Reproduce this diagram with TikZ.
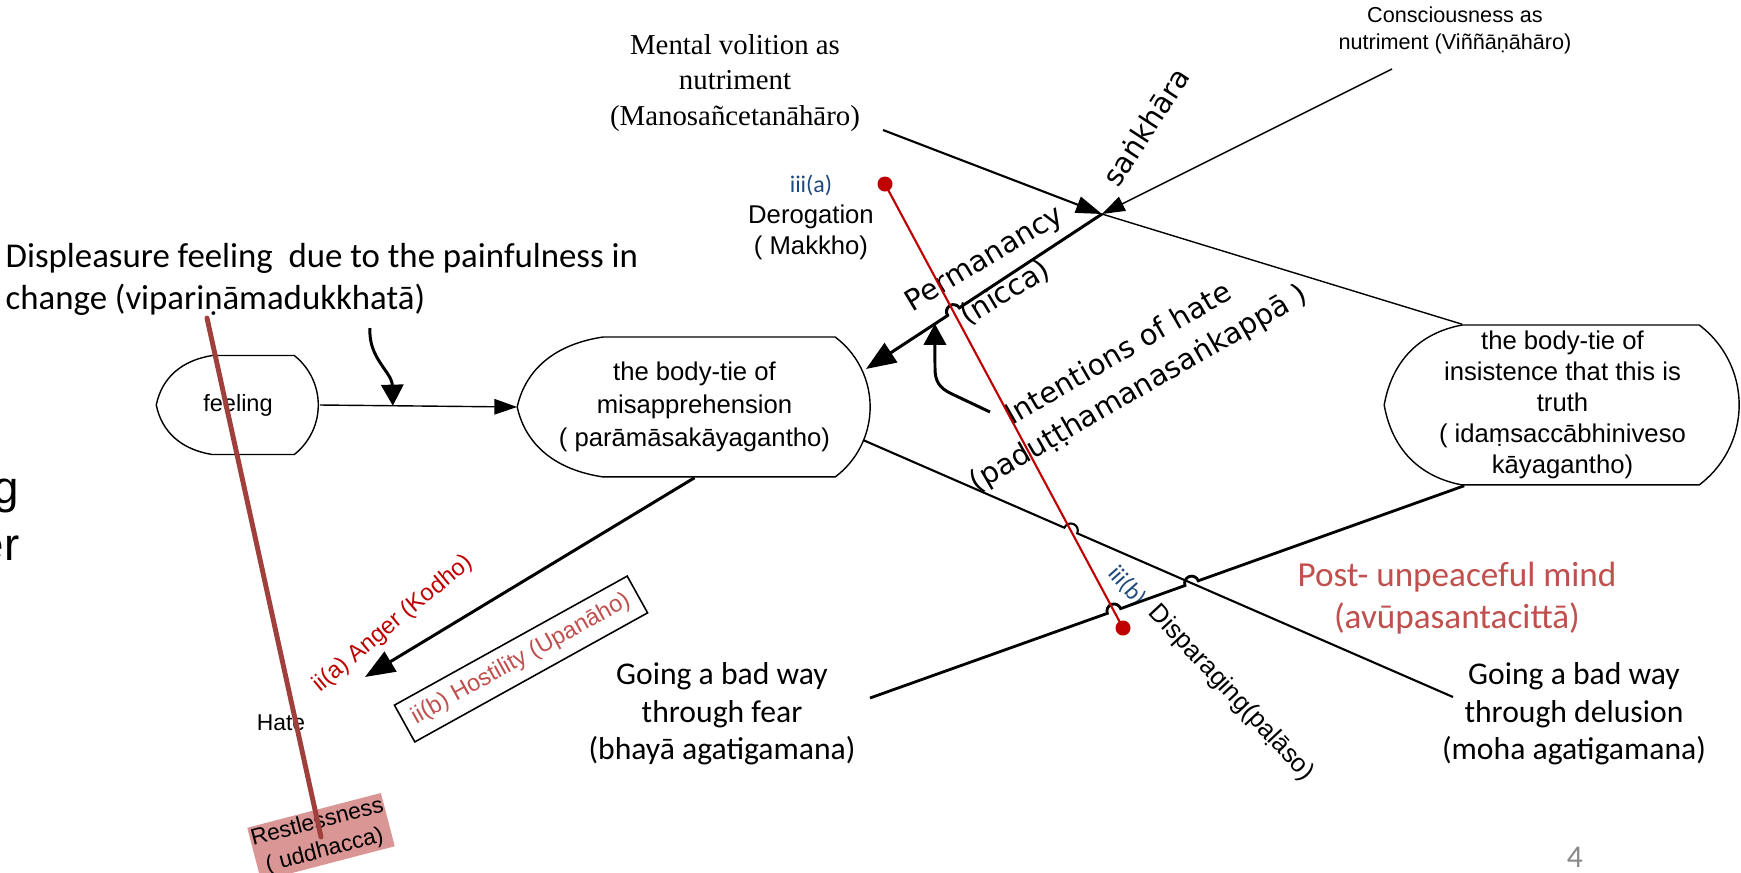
\documentclass[tikz,border=0pt]{standalone}
\usepackage{fontspec}
\setmainfont{Liberation Sans}
\newfontfamily\carlito{Carlito}
\newfontfamily\dejavu{DejaVu Sans}
\newfontfamily\serifnote{Liberation Serif}
\usetikzlibrary{arrows.meta,calc}

\definecolor{darkred}{RGB}{192,0,0}
\definecolor{softred}{RGB}{192,80,77}
\definecolor{noteblue}{RGB}{31,73,125}
\definecolor{brickred}{RGB}{160,64,60}
\definecolor{pinkfill}{RGB}{217,150,148}
\definecolor{pagegray}{RGB}{137,137,137}

% node, half height, left inset, flat length, arc angle, arc radius
\newcommand\dispoutline[6]{%
  \draw[shapeline] (#1.west) .. controls +(0.1*#3,-0.55*#2) and +(-0.55*#3,0.1*#2) .. ++(#3,-#2)
    -- ++(#4,0) arc[start angle=-#5, end angle=#5, radius=#6]
    -- ++(-#4,0) .. controls +(-0.55*#3,-0.1*#2) and +(0.1*#3,0.55*#2) .. (#1.west) -- cycle;}
% line jump, used inside a let path that sets \n1
\newcommand\hopover[1]{-- ($(#1)+(\n1+180:2pt)$) arc[start angle=\n1+180, delta angle=-180, radius=2pt]}

\begin{document}
\begin{tikzpicture}
  [x=0.01cm, y=-0.01cm,
   visio/.style={font=\fontsize{7.3}{8.8}\selectfont, align=center, inner sep=0pt},
   dispnode/.style={visio},
   calibri/.style={font=\carlito\fontsize{9}{10.7}\selectfont, align=center, inner sep=0pt},
   verd/.style={font=\dejavu\fontsize{8.2}{11.4}\selectfont, align=center, inner sep=0pt},
   shapeline/.style={line width=0.4pt},
   thinarrow/.style={line width=0.4pt, -{Triangle[length=6.5pt,width=4.4pt]}},
   medarrow/.style={line width=0.6pt, -{Triangle[length=7.4pt,width=4.8pt]}},
   bigarrow/.style={line width=0.85pt, -{Triangle[length=8.5pt,width=6.5pt]}},
   curlarrow/.style={line width=0.85pt, -{Triangle[length=6pt,width=6.3pt]}},
   redline/.style={line width=0.6pt, darkred},
   reddot/.style={circle, fill=darkred, inner sep=0pt, minimum size=0.15cm},
   brickline/.style={line width=1.4pt, brickred, line cap=round}]
  \path[use as bounding box, fill=white] (0,0) rectangle (1741,872);

  \node[dispnode, minimum width=1.62cm, minimum height=0.99cm, font=\fontsize{6.7}{8}\selectfont] (feel) at (238,405) {feeling};
  \node[dispnode, minimum width=3.53cm, minimum height=1.4cm, font=\fontsize{7.3}{9.4}\selectfont] (misapp) at (694.5,407) {the body-tie of\\misapprehension\\( parāmāsakāyagantho)};
  \node[dispnode, minimum width=3.55cm, minimum height=1.6cm] (truth) at (1562.5,405) {the body-tie of\\insistence that this is\\truth\\( idaṃsaccābhiniveso\\kāyagantho)};
  \dispoutline{feel}{49.5}{56}{82}{51.8}{63}
  \dispoutline{misapp}{70}{86}{232}{53.1}{87.5}
  \dispoutline{truth}{80}{78}{237}{53.1}{100}

  \node[calibri, font=\carlito\fontsize{9.9}{12}\selectfont, align=left, anchor=west] (displ) at (5,279) {Displeasure feeling~ due to the painfulness in\\change (vipariṇāmadukkhatā)};
  \node[visio, font=\fontsize{13}{16.2}\selectfont, align=right, anchor=east] (cut) at (20,520) {g\\er};
  \node[font=\serifnote\fontsize{8.2}{10}\selectfont, align=center, inner sep=0pt] (mental) at (735,83) {Mental volition as\\nutriment\\(Manosañcetanāhāro)};
  \node[visio, font=\fontsize{6.15}{7.7}\selectfont] (conscious) at (1455,30) {Consciousness as\\nutriment (Viññāṇāhāro)};
  \node[visio] (derog) at (811,217) {{\carlito\fontsize{6.8}{8.8}\selectfont\color{noteblue}iii(a)}\\Derogation\\( Makkho)};
  \node[verd, rotate=31] (perm) at (995,276) {Permanancy\\(nicca)};
  \node[verd, rotate=57] (sankhara) at (1146,127) {saṅkhāra};
  \node[verd, rotate=30] (intent) at (1129,372) {Intentions of hate\\(paduṭṭhamanasaṅkappā )};
  \node[visio, rotate=40, text=darkred, font=\fontsize{6.7}{8}\selectfont] (anger) at (393,624) {ii(a) Anger (Kodho)};
  \node[visio, draw, line width=0.45pt, rotate=29, text=softred, font=\fontsize{6.7}{8}\selectfont, minimum width=2.66cm, minimum height=0.42cm] (hostility) at (521,659) {ii(b) Hostility (Upanāho)};
  \node[visio, font=\fontsize{6.5}{8}\selectfont] (hate) at (281,723) {Hate};
  \node[visio, fill=pinkfill, rotate=14.6, minimum width=1.38cm, minimum height=0.55cm, font=\fontsize{6.5}{8.3}\selectfont] (restless) at (321,837) {Restlessness\\( uddhacca)};
  \node[calibri] (fear) at (722,714) {Going a bad way\\through fear\\(bhayā agatigamana)};
  \node[calibri] (delusion) at (1574,714) {Going a bad way\\through delusion\\(moha agatigamana)};
  \node[calibri, text=softred, font=\carlito\fontsize{10}{11.8}\selectfont] (postmind) at (1457,598) {Post- unpeaceful mind\\(avūpasantacittā)};
  \node[calibri, text=noteblue, font=\carlito\fontsize{6.8}{8}\selectfont, rotate=-48] (iiib) at (1127,586) {iii(b)};
  \node[visio, rotate=-47] (dispar) at (1231,693) {Disparaging(paḷāso)};
  \node[calibri, text=pagegray] (pagenum) at (1575,857) {4};

  \node[reddot] (derogDot) at (885,184) {};
  \node[reddot] (dispDot) at (1123,628) {};

  \coordinate (sk) at (1102,214);
  \coordinate (permTip) at (866,369);
  \coordinate (mvStart) at (883,130);
  \coordinate (csStart) at (1392,69);
  \coordinate (delStart) at (863,440);
  \coordinate (delEnd) at (1453,697);
  \coordinate (fearStart) at (870,698);
  \coordinate (truthTL) at ($(truth.north west)+(78,0)$);
  \coordinate (truthBL) at ($(truth.south west)+(80,0)$);
  \coordinate (angerTip) at (365,677);
  \coordinate (dukTail) at (370,328);
  \coordinate (dukTip) at ($(feel.east)!0.37!(misapp.west)$);
  \coordinate (intTail) at (990,412);
  \coordinate (intTip) at ($(permTip)!0.292!(sk)$);
  \coordinate (restTop) at (207,318);
  \coordinate (xPerm) at (intersection of permTip--sk and derogDot.center--dispDot.center);
  \coordinate (xDelRed) at (intersection of delStart--delEnd and derogDot.center--dispDot.center);
  \coordinate (xFearRed) at (intersection of fearStart--truthBL and derogDot.center--dispDot.center);
  \coordinate (xFearDel) at (intersection of fearStart--truthBL and delStart--delEnd);

  \draw[thinarrow] (feel.east) -- (misapp.west);
  \draw[curlarrow] (dukTail) .. controls (368,358) and (392,372) .. (dukTip);
  \draw[medarrow] (mvStart) -- (sk);
  \draw[thinarrow] (csStart) -- (sk);
  \draw[shapeline] (sk) -- (truthTL);
  \draw[bigarrow] (misapp.south) -- (angerTip);
  \draw[line width=0.85pt, {Triangle[length=8.5pt,width=6.5pt]}-] let \p1=($(sk)-(permTip)$), \n1={atan2(\y1,\x1)} in
    (permTip) \hopover{xPerm} -- (sk);
  \draw[line width=0.6pt] let \p1=($(delEnd)-(delStart)$), \n1={atan2(\y1,\x1)} in
    (delStart) \hopover{xDelRed} -- (delEnd);
  \draw[line width=0.8pt] let \p1=($(truthBL)-(fearStart)$), \n1={atan2(\y1,\x1)} in
    (fearStart) \hopover{xFearRed} \hopover{xFearDel} -- (truthBL);
  \draw[curlarrow] (intTail) -- (952,394) .. controls (939,388) and (935,381) .. (935,368) -- (intTip);
  \draw[redline] (derogDot.center) -- (dispDot.center);
  \draw[brickline] (restTop) -- (restless.center);
\end{tikzpicture}
\end{document}
